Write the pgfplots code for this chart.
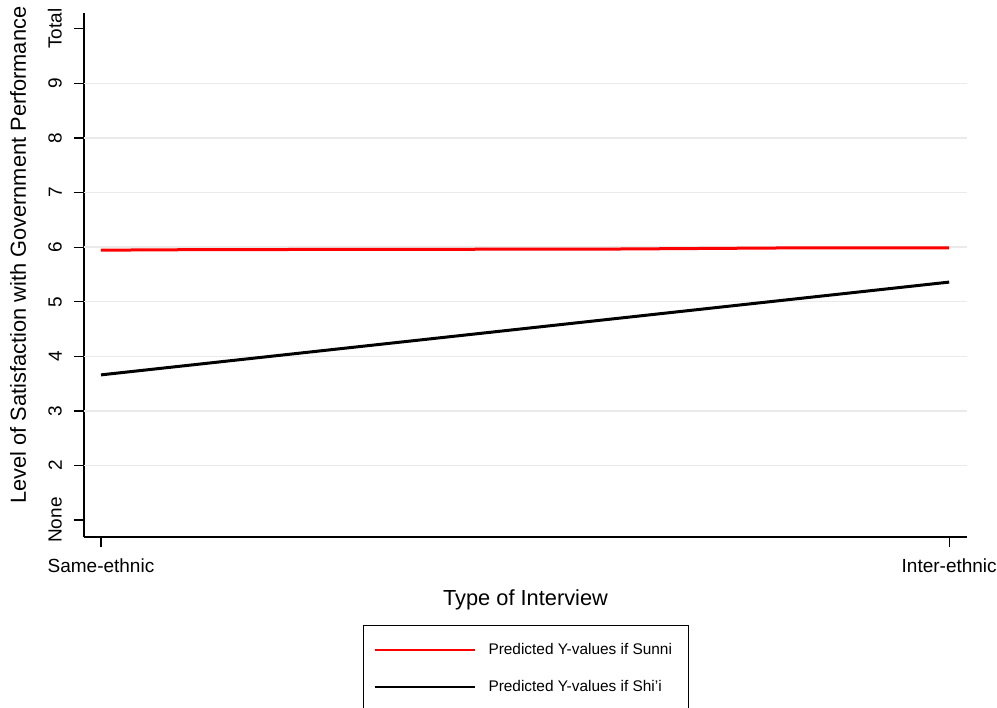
\documentclass[border=0pt]{standalone}
\usepackage{fontspec}
\setmainfont{Liberation Sans}
\usepackage{pgfplots}
\pgfplotsset{compat=1.18}
\definecolor{gridc}{RGB}{234,234,234}
\definecolor{sunni}{RGB}{255,0,0}
\begin{document}
\begin{tikzpicture}
\useasboundingbox (0,0) rectangle (997pt,708pt);
\clip (0,0) rectangle (997pt,708pt);
\begin{axis}[
  at={(84pt,171pt)}, anchor=south west,
  scale only axis, width=883pt, height=524pt,
  xmin=-0.02, xmax=1.021, ymin=0.69, ymax=10.29,
  axis x line*=bottom, axis y line*=left,
  axis line style={line width=1.2pt, -},
  xtick={0,1}, xticklabels={Same-ethnic, Inter-ethnic},
  ytick={1,2,3,4,5,6,7,8,9,10}, yticklabels={None,2,3,4,5,6,7,8,9,Total},
  extra y ticks={2,3,4,5,6,7,8,9}, extra y tick labels={},
  extra y tick style={ymajorgrids=true, major tick length=0pt},
  grid style={line width=1.5pt, gridc},
  tick align=outside, major tick length=10pt,
  tick style={line width=1.2pt, black},
  ticklabel style={font=\fontsize{19}{22}\selectfont},
  /pgf/number format/assume math mode=true,
  yticklabel style={rotate=90, anchor=south, inner sep=12pt},
  xticklabel style={anchor=north, inner sep=12pt},
  xlabel={Type of Interview},
  ylabel={Level of Satisfaction with Government Performance},
  label style={font=\fontsize{21.8}{26}\selectfont},
  xlabel style={at={(axis description cs:0.5,-0.12)}, anchor=center},
  ylabel style={at={(axis description cs:-0.0747,0.538)}, anchor=center},
  legend style={at={(axis description cs:0.316,-0.168)}, anchor=north west,
    draw=black, line width=1pt, inner xsep=10pt, inner ysep=18pt,
    font=\fontsize{15.4}{18}\selectfont, row sep=24pt,
    nodes={inner sep=0pt},
    /tikz/every odd column/.append style={column sep=13pt}},
  legend cell align=left,
  legend image code/.code={\draw[#1, line width=2pt] (0pt,0pt) -- (100pt,0pt);},
]
\addplot[sunni, line width=3pt] coordinates {(0,5.945) (0.12,5.955) (0.6,5.965) (0.8,5.985) (1,5.985)};
\addlegendentry{\makebox[190pt][l]{Predicted Y-values if Sunni}}
\addplot[black, line width=3pt] coordinates {(0,3.66) (1,5.36)};
\addlegendentry{\makebox[190pt][l]{Predicted Y-values if Shi'i}}
\end{axis}
\end{tikzpicture}
\end{document}
